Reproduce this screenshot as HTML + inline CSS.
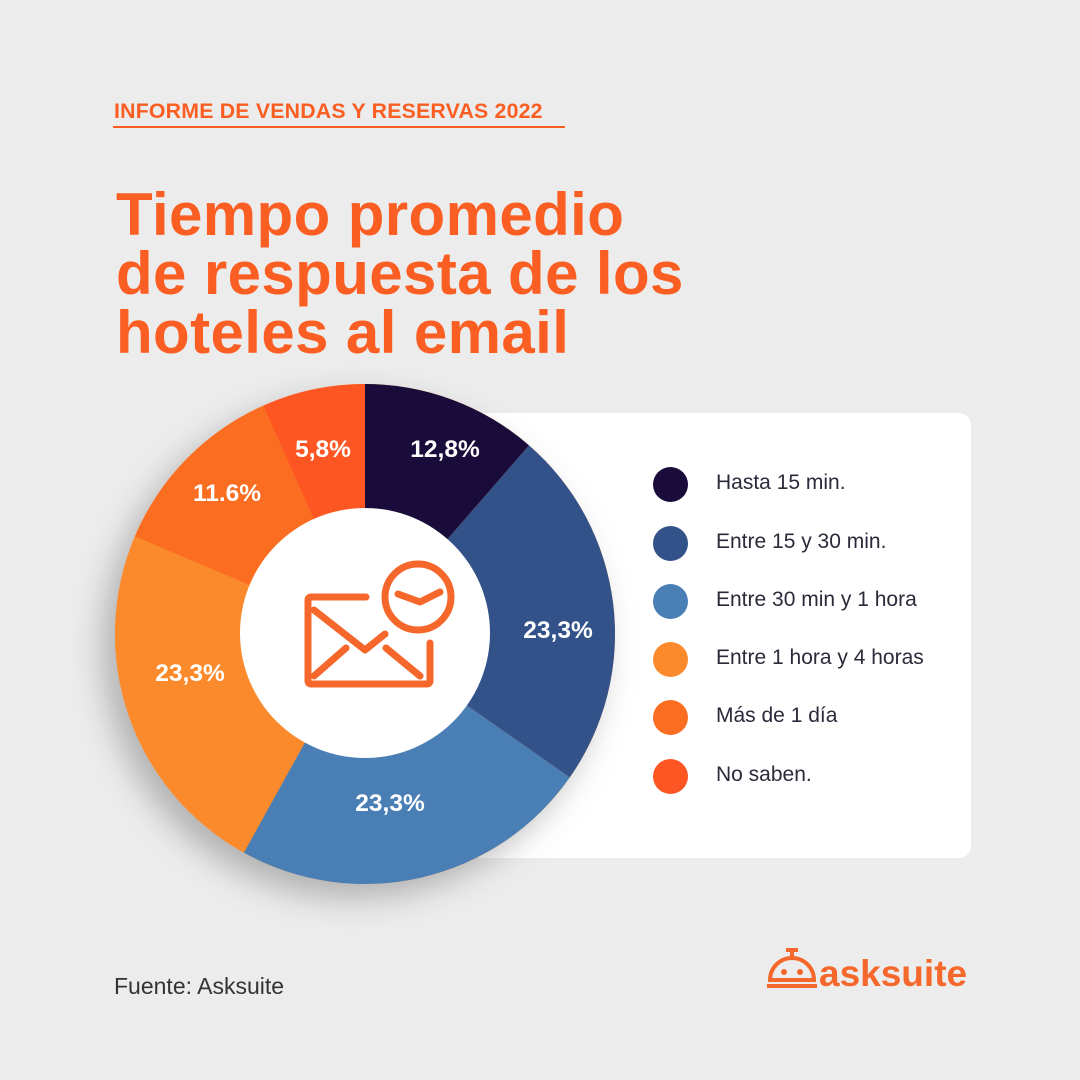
<!DOCTYPE html>
<html><head><meta charset="utf-8"><style>
body{margin:0;width:1080px;height:1080px;background:#ececec;font-family:"Liberation Sans",sans-serif;position:relative;overflow:hidden}
.hdr{position:absolute;left:114px;top:99px;color:#fb5e22;font-weight:bold;font-size:21.3px;letter-spacing:0.2px}
.line{position:absolute;left:113px;top:126px;width:452px;height:2px;background:#fb5e22}
.title{position:absolute;left:116px;top:185px;color:#fb5e22;font-weight:bold;font-size:60px;line-height:59px;letter-spacing:0.4px}
.card{position:absolute;left:470px;top:413px;width:501px;height:445px;background:#fff;border-radius:12px}
.lg{position:absolute;left:716px;font-size:21px;color:#2a2a3a}
.dot{position:absolute;left:653px;width:35px;height:35px;border-radius:50%}
.src{position:absolute;left:114px;top:973px;font-size:23px;color:#333}
</style></head><body>
<div class="hdr">INFORME DE VENDAS Y RESERVAS 2022</div>
<div class="line"></div>
<div class="title">Tiempo promedio<br>de respuesta de los<br>hoteles al email</div>
<div class="card"></div>
<div class="dot" style="top:467px;background:#1a0c3a"></div><div class="lg" style="top:471px">Hasta 15 min.</div>
<div class="dot" style="top:526px;background:#34528a"></div><div class="lg" style="top:530px">Entre 15 y 30 min.</div>
<div class="dot" style="top:584px;background:#4a7fb5"></div><div class="lg" style="top:588px">Entre 30 min y 1 hora</div>
<div class="dot" style="top:642px;background:#fb8a2c"></div><div class="lg" style="top:646px">Entre 1 hora y 4 horas</div>
<div class="dot" style="top:700px;background:#fb6e22"></div><div class="lg" style="top:704px">Más de 1 día</div>
<div class="dot" style="top:759px;background:#fd5622"></div><div class="lg" style="top:763px">No saben.</div>
<svg width="1080" height="1080" style="position:absolute;left:0;top:0">
<defs><filter id="sh" x="-30%" y="-30%" width="160%" height="160%"><feDropShadow dx="-12" dy="14" stdDeviation="16" flood-color="#000" flood-opacity="0.25"/></filter></defs>
<g filter="url(#sh)">
<circle cx="365" cy="634" r="250" fill="#fb8a2c"/>
</g>
<g id="slices"></g>
<circle cx="365" cy="633" r="125" fill="#fff"/>
<g fill="none" stroke="#f5672a" stroke-width="7" stroke-linecap="round" stroke-linejoin="round">
<path d="M366 597 H311 a3 3 0 0 0 -3 3 V681 a3 3 0 0 0 3 3 H427 a3 3 0 0 0 3 -3 V643"/>
<path d="M314 610 L365 650 L385 634"/>
<path d="M314 676 L346 648"/>
<path d="M386 648 L420 676"/>
<circle cx="418" cy="597" r="33"/>
<path d="M398 594 L420 602 L440 592"/>
</g>
<g fill="#fff" font-weight="bold" font-size="24.5" text-anchor="middle" font-family="Liberation Sans,sans-serif">
<text x="445" y="457">12,8%</text>
<text x="558" y="638">23,3%</text>
<text x="390" y="811">23,3%</text>
<text x="190" y="681">23,3%</text>
<text x="227" y="501">11.6%</text>
<text x="323" y="457">5,8%</text>
</g>
<g fill="none" stroke="#f5672a" stroke-width="4">
<path d="M770 980 a22 22 0 0 1 44 0 Z"/>
<path d="M767 986 H817"/>
<path d="M792 958 V950 M786 950 H798"/>
</g>
<circle cx="784" cy="972" r="3" fill="#f5672a"/><circle cx="800" cy="972" r="3" fill="#f5672a"/>
<text x="819" y="986" fill="#f5672a" font-weight="bold" font-size="37" font-family="Liberation Sans,sans-serif">asksuite</text>
</svg>
<div class="src">Fuente: Asksuite</div>
<script>
var ang=[0,41,125,209,293,336,360],col=["#1a0c3a","#34528a","#4a7fb5","#fb8a2c","#fb6e22","#fd5622"];
var cx=365,cy=634,R=250,s="";
for(var i=0;i<6;i++){var a=ang[i]*Math.PI/180,b=ang[i+1]*Math.PI/180;
var x1=cx+R*Math.sin(a),y1=cy-R*Math.cos(a),x2=cx+R*Math.sin(b),y2=cy-R*Math.cos(b);
s+='<path d="M'+cx+' '+cy+' L'+x1+' '+y1+' A'+R+' '+R+' 0 '+((b-a)>Math.PI?1:0)+' 1 '+x2+' '+y2+' Z" fill="'+col[i]+'"/>';}
document.getElementById("slices").innerHTML=s;
</script>
</body></html>
